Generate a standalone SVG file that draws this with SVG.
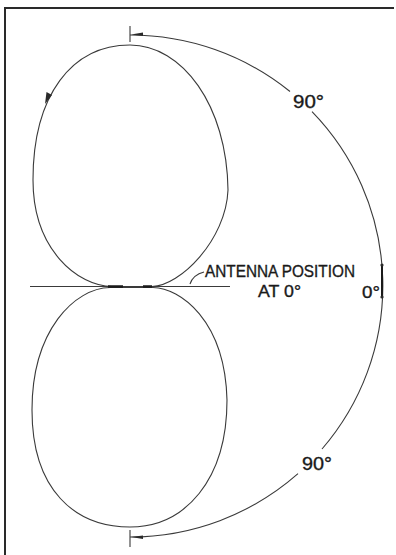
<svg xmlns="http://www.w3.org/2000/svg" width="396" height="555" viewBox="0 0 396 555">
<style>
.ln{fill:none;stroke:#3a3a3a;stroke-width:1.1}
.bd{fill:none;stroke:#2a2a2a;stroke-width:2}
.tx{font-family:"Liberation Sans",Arial,sans-serif;fill:#1a1a1a;stroke:#1a1a1a;stroke-width:0.35}
.ah{fill:#2a2a2a}
</style>
<rect width="396" height="555" fill="#fff"/>
<g id="frame">
<path class="bd" d="M4,8 L394,8 M5,8 L5,555"/>
</g>
<g id="top-lobe">
<path class="ln" d="M112,286.5 C78,286 33,250 33,180 C33,95 72,45 130,45 C182,45 227,105 228,190 C226,240 180,286 152,286.5 Z"/>
<polygon class="ah" points="45,104 46.5,92 52,95"/>
</g>
<g id="bottom-lobe">
<path class="ln" d="M153,287.5 C180,288 225,320 227,400 C227,480 185,527 130,527 C75,527 32,490 32,410 C32,330 75,288 110,287.5 Z"/>
</g>
<g id="antenna">
<path class="ln" d="M30,286.5 L230,286.5"/>
<path fill="none" stroke="#1a1a1a" stroke-width="2.6" d="M108,286.5 L123,286.5 M143,286.5 L152,286.5"/>
<path class="ln" d="M190,284 C192,278 196,274 204,272"/>
<text class="tx" x="205" y="277" font-size="17" textLength="150" lengthAdjust="spacingAndGlyphs">ANTENNA POSITION</text>
<text class="tx" x="258" y="297" font-size="17" textLength="43" lengthAdjust="spacingAndGlyphs">AT 0°</text>
</g>
<g id="connectors">
<path class="ln" d="M130,35 A253,251 0 0 1 290,91.5"/>
<path class="ln" d="M312,111.6 A253,251 0 0 1 322,449"/>
<path class="ln" d="M298,473.7 A253,251 0 0 1 130,537"/>
<path class="ln" d="M130,26 L130,42 M130,530 L130,547"/>
<polygon class="ah" points="131,34.5 143,32.5 143,36"/>
<polygon class="ah" points="131,537 143,535.5 143,539"/>
<path fill="none" stroke="#1a1a1a" stroke-width="2" d="M382,265 L382,297"/>
<circle class="ah" cx="382" cy="265" r="1.6"/>
<circle class="ah" cx="382" cy="297" r="1.6"/>
</g>
<g id="labels">
<text class="tx" x="293" y="108" font-size="18" textLength="31" lengthAdjust="spacingAndGlyphs">90°</text>
<text class="tx" x="302" y="470" font-size="18" textLength="30" lengthAdjust="spacingAndGlyphs">90°</text>
<text class="tx" x="362" y="298" font-size="17" textLength="18" lengthAdjust="spacingAndGlyphs">0°</text>
</g>
</svg>
